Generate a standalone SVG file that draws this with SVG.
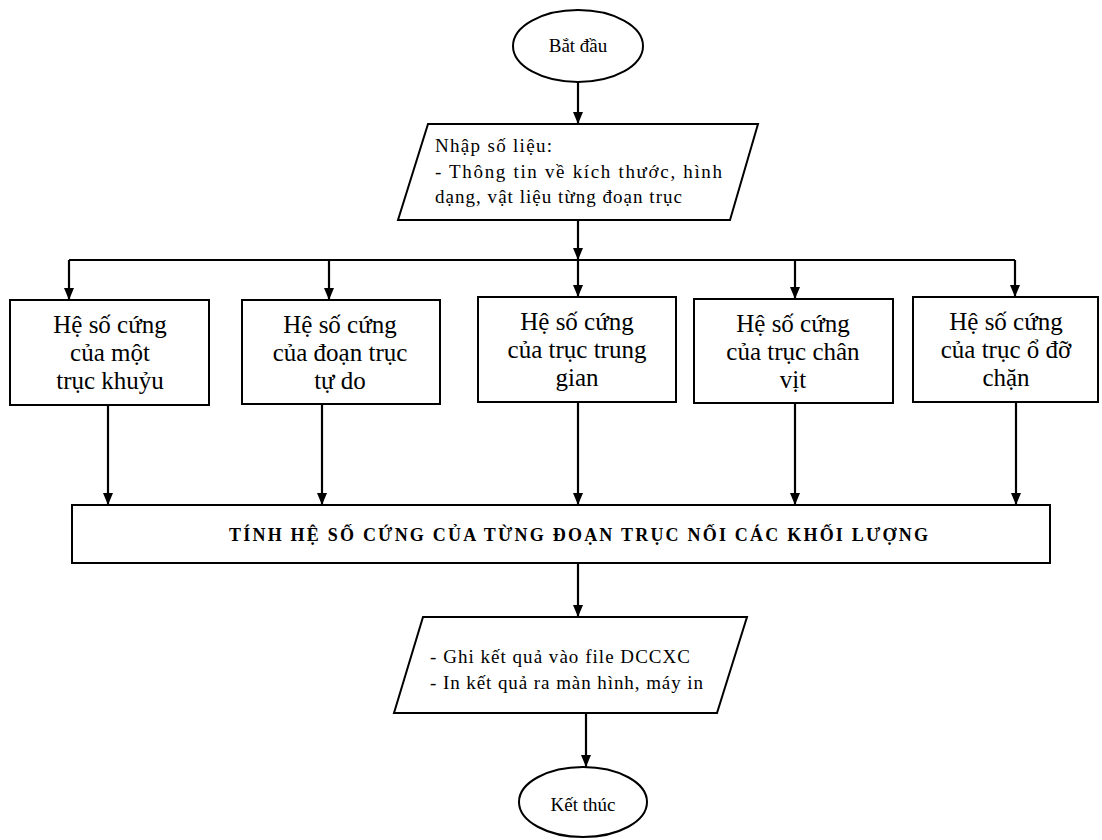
<svg xmlns="http://www.w3.org/2000/svg" width="1102" height="840" viewBox="0 0 1102 840" font-family="Liberation Serif, Times New Roman, serif">
<defs>
<marker id="arr" viewBox="0 0 12 10" refX="12" refY="5" markerWidth="12" markerHeight="10" orient="auto" markerUnits="userSpaceOnUse">
<path d="M0,0 L12,5 L0,10 z" fill="#000"/>
</marker>
<style>
.shape{fill:#fff;stroke:#000;stroke-width:2}
.conn{fill:none;stroke:#000;stroke-width:2.2}
.reg{font-size:19px;fill:#000}
.box{font-size:25px;text-anchor:middle;fill:#000}
.main{font-size:18px;font-weight:bold;fill:#000}
.mid{text-anchor:middle}
</style>
</defs>
<rect width="1102" height="840" fill="#fff"/>

<g id="connectors">
<line class="conn" x1="578" y1="82" x2="578" y2="124" marker-end="url(#arr)"/>
<line class="conn" x1="578" y1="220" x2="578" y2="260" marker-end="url(#arr)"/>
<line class="conn" x1="69" y1="260" x2="1015" y2="260"/>
<line class="conn" x1="69" y1="260" x2="69" y2="300" marker-end="url(#arr)"/>
<line class="conn" x1="329" y1="260" x2="329" y2="300" marker-end="url(#arr)"/>
<line class="conn" x1="578" y1="260" x2="578" y2="297" marker-end="url(#arr)"/>
<line class="conn" x1="795" y1="260" x2="795" y2="299" marker-end="url(#arr)"/>
<line class="conn" x1="1015" y1="260" x2="1015" y2="297" marker-end="url(#arr)"/>
<line class="conn" x1="108" y1="405" x2="108" y2="505" marker-end="url(#arr)"/>
<line class="conn" x1="322" y1="404" x2="322" y2="505" marker-end="url(#arr)"/>
<line class="conn" x1="578" y1="402" x2="578" y2="505" marker-end="url(#arr)"/>
<line class="conn" x1="795" y1="403" x2="795" y2="505" marker-end="url(#arr)"/>
<line class="conn" x1="1016" y1="402" x2="1016" y2="505" marker-end="url(#arr)"/>
<line class="conn" x1="578" y1="563" x2="578" y2="617" marker-end="url(#arr)"/>
<line class="conn" x1="586" y1="713" x2="586" y2="767" marker-end="url(#arr)"/>
</g>

<g id="start">
<ellipse class="shape" cx="578" cy="46" rx="65" ry="36"/>
<text class="reg mid" x="578" y="52">Bắt đầu</text>
</g>

<g id="input">
<polygon class="shape" points="428,124 758,124 730,220 398,220"/>
<text class="reg" x="435" y="152" textLength="117" lengthAdjust="spacing">Nhập số liệu:</text>
<text class="reg" x="435" y="178" textLength="287" lengthAdjust="spacing">- Thông tin về kích thước, hình</text>
<text class="reg" x="435" y="203" textLength="247" lengthAdjust="spacing">dạng, vật liệu từng đoạn trục</text>
</g>

<g id="box1">
<rect class="shape" x="10" y="300" width="199" height="105"/>
<text class="box" x="110" y="333">Hệ số cứng</text>
<text class="box" x="110" y="361">của một</text>
<text class="box" x="110" y="389">trục khuỷu</text>
</g>

<g id="box2">
<rect class="shape" x="242" y="300" width="198" height="104"/>
<text class="box" x="340" y="333">Hệ số cứng</text>
<text class="box" x="340" y="361">của đoạn trục</text>
<text class="box" x="340" y="389">tự do</text>
</g>

<g id="box3">
<rect class="shape" x="478" y="297" width="198" height="105"/>
<text class="box" x="577" y="330">Hệ số cứng</text>
<text class="box" x="577" y="358">của trục trung</text>
<text class="box" x="577" y="386">gian</text>
</g>

<g id="box4">
<rect class="shape" x="694" y="299" width="199" height="104"/>
<text class="box" x="793" y="332">Hệ số cứng</text>
<text class="box" x="793" y="360">của trục chân</text>
<text class="box" x="793" y="388">vịt</text>
</g>

<g id="box5">
<rect class="shape" x="913" y="297" width="185" height="105"/>
<text class="box" x="1006" y="330">Hệ số cứng</text>
<text class="box" x="1006" y="358">của trục ổ đỡ</text>
<text class="box" x="1006" y="386">chặn</text>
</g>

<g id="compute">
<rect class="shape" x="72" y="505" width="978" height="58"/>
<text class="main" x="229" y="541" textLength="699" lengthAdjust="spacing">TÍNH HỆ SỐ CỨNG CỦA TỪNG ĐOẠN TRỤC NỐI CÁC KHỐI LƯỢNG</text>
</g>

<g id="output">
<polygon class="shape" points="423,617 747,617 717,713 394,713"/>
<text class="reg" x="430" y="663" textLength="260" lengthAdjust="spacing">- Ghi kết quả vào  file DCCXC</text>
<text class="reg" x="430" y="689" textLength="273" lengthAdjust="spacing">- In kết quả ra màn hình, máy in</text>
</g>

<g id="end">
<ellipse class="shape" cx="583" cy="802" rx="64" ry="35"/>
<text class="reg mid" x="583" y="811">Kết thúc</text>
</g>
</svg>
